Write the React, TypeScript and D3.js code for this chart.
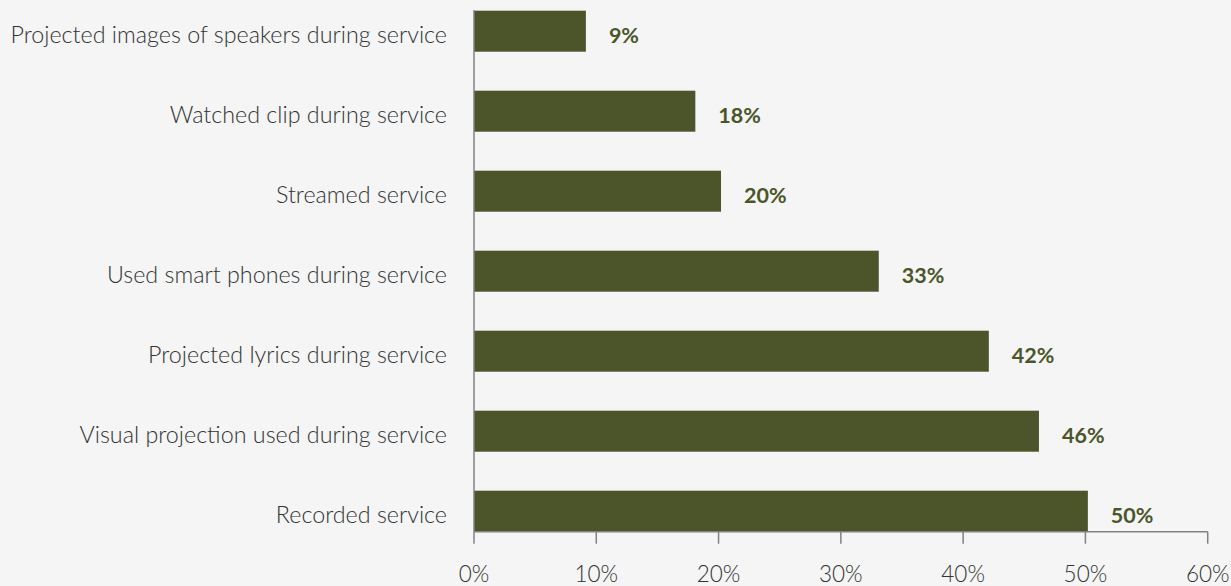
import React from "react";
import * as d3 from "d3";

const categories = [
  "Projected images of speakers during service",
  "Watched clip during service",
  "Streamed service",
  "Used smart phones during service",
  "Projected lyrics during service",
  "Visual projection used during service",
  "Recorded service",
];
const values = [9.15, 18.1, 20.2, 33.1, 42.1, 46.2, 50.2];
const valueLabels = ["9%", "18%", "20%", "33%", "42%", "46%", "50%"];
const ticks = [0, 10, 20, 30, 40, 50, 60];

const W = 1231;
const H = 586;
const FONT = "Lato, 'Noto Sans', sans-serif";

export default function App() {
  const x = d3.scaleLinear().domain([0, 60]).range([474, 1207.7]);
  const y = d3
    .scaleBand<string>()
    .domain(categories)
    .range([10.7, 531.7])
    .paddingInner(0.4875)
    .paddingOuter(0);
  const axisY = 531.7;
  return (
    <div style={{ position: "fixed", left: 0, top: 0, width: W, height: H, background: "#f4f5f4" }}>
      <svg width={W} height={H} style={{ display: "block" }}>
        <rect x={0} y={0} width={W} height={H} fill="#f4f5f4" />
        {categories.map((c, i) => {
          const y0 = y(c)!;
          const bw = y.bandwidth();
          return (
            <g key={c}>
              <rect x={x(0)} y={y0} width={x(values[i]) - x(0)} height={bw} fill="#4b5529" />
              <text
                x={447}
                y={y0 + bw / 2 + 11.5}
                textAnchor="end"
                fontFamily={FONT}
                fontSize={23.3}
                fontWeight={300}
                fill="#333333"
              >
                {c}
              </text>
              <text
                x={x(values[i]) + 23}
                y={y0 + bw / 2 + 11.5}
                fontFamily={FONT}
                fontSize={21.5}
                fontWeight={700}
                fill="#4b5529"
              >
                {valueLabels[i]}
              </text>
            </g>
          );
        })}
        <line x1={x(0)} x2={x(0)} y1={10} y2={axisY} stroke="#7f8184" strokeWidth={1.5} />
        <line x1={x(0)} x2={x(60)} y1={axisY} y2={axisY} stroke="#7f8184" strokeWidth={1.5} />
        {ticks.map((t) => (
          <g key={t}>
            <line x1={x(t)} x2={x(t)} y1={axisY} y2={axisY + 12} stroke="#7f8184" strokeWidth={1.5} />
            <text
              x={x(t)}
              y={582}
              textAnchor="middle"
              fontFamily={FONT}
              fontSize={22.5}
              fontWeight={300}
              fill="#333333"
            >
              {t + "%"}
            </text>
          </g>
        ))}
      </svg>
    </div>
  );
}
